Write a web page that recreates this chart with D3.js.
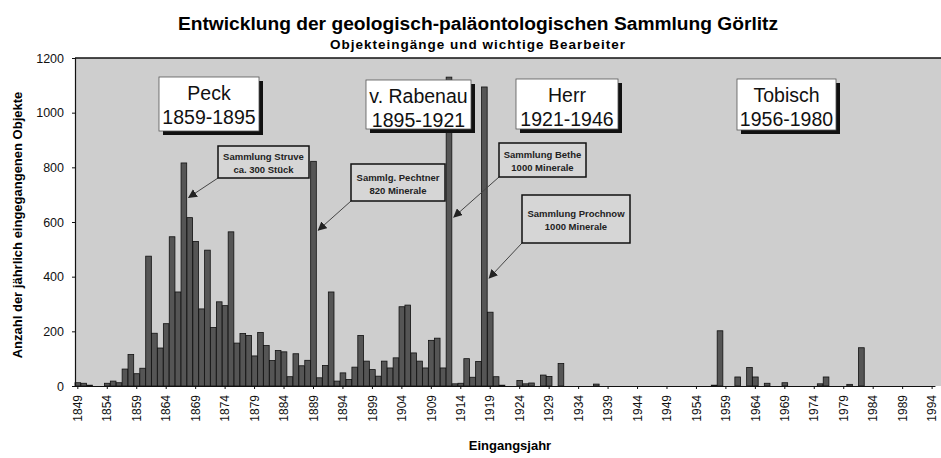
<!DOCTYPE html>
<html>
<head>
<meta charset="utf-8">
<script src="https://cdn.jsdelivr.net/npm/d3@7"></script>
<style>
	body { margin: 0; background: #fff; }
	svg { display: block; font-family: "Liberation Sans", Arial, sans-serif; }
	.tick text { fill: #111; }
</style>
</head>
<body>
<div id="chart"></div>
<script>
// Objekteingaenge pro Jahr, ab 1849 (ein Wert pro Jahr)
var ERSTES_JAHR = 1849
var LETZTES_JAHR = 1994
var eingaenge = [
	12, 10, 3, 0, 0, 10, 18, 12, 62, 115,        // 1849-1858
	45, 65, 475, 193, 139, 228, 546, 344, 816, 616,   // 1859-1868
	529, 282, 497, 214, 308, 294, 564, 157, 192, 185, // 1869-1878
	110, 196, 148, 93, 130, 125, 34, 118, 74, 94,     // 1879-1888
	822, 30, 75, 344, 18, 48, 24, 69, 185, 91,        // 1889-1898
	60, 36, 91, 66, 103, 290, 296, 121, 91, 66,       // 1899-1908
	167, 175, 66, 1130, 8, 10, 100, 32, 90, 1094,     // 1909-1918
	270, 34, 3, 0, 0, 20, 8, 11, 0, 40,               // 1919-1928
	35, 0, 82, 0, 0, 0, 0, 0, 7, 0,                   // 1929-1938
	0, 0, 0, 0, 0, 0, 0, 0, 0, 0,                     // 1939-1948
	0, 0, 0, 0, 0, 0, 0, 0, 3, 202,                   // 1949-1958
	0, 0, 33, 0, 68, 33, 0, 10, 0, 0,                 // 1959-1968
	12, 0, 0, 0, 0, 0, 8, 33, 0, 0,                   // 1969-1978
	0, 6, 0, 140, 0, 0, 0, 0, 0, 0,                   // 1979-1988
	0, 0, 0, 0, 0, 0                                  // 1989-1994
]
var yTicks = [0, 200, 400, 600, 800, 1000, 1200]

// Bearbeiter
var bearbeiter = ["Peck", "v. Rabenau", "Herr", "Tobisch"]
var zeitraeume = ["1859-1895", "1895-1921", "1921-1946", "1956-1980"]

// Sammlungen mit Pfeil auf das Eingangsjahr
var sammlungen = ["Sammlung Struve", "Sammlg. Pechtner", "Sammlung Bethe", "Sammlung Prochnow"]
var sammlungUmfang = ["ca. 300 Stück", "820 Minerale", "1000 Minerale", "1000 Minerale"]
var sammlungJahr = [1867, 1889, 1912, 1918]
var sammlungPfeilWert = [690, 570, 618, 395]

var WIDTH = 941, HEIGHT = 458
var LEFT = 75, TOP = 58, BOTTOM = 386, STEP = 5.89

var jahre = d3.range(ERSTES_JAHR, LETZTES_JAHR + 1)
var data = jahre.map(function(j, i){ return {jahr: j, wert: eingaenge[i]} })

var svg = d3.select("#chart").append("svg")
	.attr("width", WIDTH)
	.attr("height", HEIGHT)

var x = d3.scaleBand()
	.domain(jahre)
	.range([LEFT, LEFT + jahre.length * STEP])
	.paddingInner(0.04)
	.paddingOuter(0)

var y = d3.scaleLinear()
	.domain([0, 1200])
	.range([BOTTOM, TOP])

// plot background
svg.append("rect")
	.attr("x", LEFT)
	.attr("y", TOP)
	.attr("width", WIDTH - LEFT)
	.attr("height", BOTTOM - TOP)
	.attr("fill", "#cecece")

// bars
svg.selectAll(".bar")
	.data(data.filter(function(d){ return d.wert > 0 }))
	.enter()
	.append("rect")
	.attr("class", "bar")
	.attr("x", function(d){ return x(d.jahr) })
	.attr("width", x.bandwidth())
	.attr("y", function(d){ return y(d.wert) })
	.attr("height", function(d){ return y(0) - y(d.wert) })
	.attr("fill", "#555")
	.attr("stroke", "#111")
	.attr("stroke-width", 0.8)

// frame
svg.append("line")
	.attr("x1", LEFT).attr("x2", WIDTH)
	.attr("y1", TOP).attr("y2", TOP)
	.attr("stroke", "#111").attr("stroke-width", 1.5)

// y axis
var yAxis = svg.append("g")
	.attr("transform", "translate(" + LEFT + ",0)")
	.call(d3.axisLeft(y).tickValues(yTicks).tickFormat(d3.format("d")).tickSize(3).tickPadding(8))
yAxis.select(".domain").attr("stroke", "#111").attr("stroke-width", 1.2)
yAxis.selectAll(".tick line").attr("stroke", "#111")
yAxis.selectAll(".tick text")
	.attr("font-size", 12.5)
	.attr("font-family", "Liberation Sans, Arial, sans-serif")

// x axis
var xLabels = jahre.filter(function(j){ return (j - ERSTES_JAHR) % 5 == 0 })
var xAxis = svg.append("g")
	.attr("transform", "translate(0," + BOTTOM + ")")
	.call(d3.axisBottom(x).tickValues(xLabels).tickSize(3).tickPadding(4).tickSizeOuter(0))
xAxis.select(".domain").attr("stroke", "#111").attr("stroke-width", 1.2)
xAxis.selectAll(".tick line").attr("stroke", "#111")
xAxis.selectAll(".tick text")
	.attr("font-size", 12)
	.attr("font-family", "Liberation Sans, Arial, sans-serif")
	.attr("text-anchor", "end")
	.attr("dy", "0.35em")
	.attr("transform", "translate(0,9) rotate(-90)")
	.attr("x", 0)
	.attr("y", 0)

// titles
svg.append("text")
	.attr("x", 478).attr("y", 30)
	.attr("text-anchor", "middle")
	.attr("font-size", 19.2)
	.attr("font-weight", "bold")
	.text("Entwicklung der geologisch-paläontologischen Sammlung Görlitz")

svg.append("text")
	.attr("x", 478).attr("y", 49)
	.attr("text-anchor", "middle")
	.attr("font-size", 13.5)
	.attr("font-weight", "bold")
	.attr("letter-spacing", 1)
	.text("Objekteingänge und wichtige Bearbeiter")

svg.append("text")
	.attr("transform", "translate(22,225) rotate(-90)")
	.attr("text-anchor", "middle")
	.attr("font-size", 13)
	.attr("font-weight", "bold")
	.text("Anzahl der jährlich eingegangenen Objekte")

svg.append("text")
	.attr("x", 510).attr("y", 450)
	.attr("text-anchor", "middle")
	.attr("font-size", 13)
	.attr("font-weight", "bold")
	.text("Eingangsjahr")

// Bearbeiter boxes (layout in px)
var boxLayout = [
	{x: 159, y: 77, w: 100, h: 54},
	{x: 366, y: 80, w: 105, h: 49},
	{x: 516, y: 79, w: 102, h: 50},
	{x: 737, y: 79, w: 99, h: 51}
]

var box = svg.selectAll(".personBox")
	.data(bearbeiter)
	.enter()
	.append("g")
	.attr("class", "personBox")
	.attr("transform", function(d, i){ return "translate(" + boxLayout[i].x + "," + boxLayout[i].y + ")" })

box.append("rect")
	.attr("x", 4).attr("y", 4)
	.attr("width", function(d, i){ return boxLayout[i].w })
	.attr("height", function(d, i){ return boxLayout[i].h })
	.attr("fill", "#111")

box.append("rect")
	.attr("width", function(d, i){ return boxLayout[i].w })
	.attr("height", function(d, i){ return boxLayout[i].h })
	.attr("fill", "#fff")
	.attr("stroke", "#555")
	.attr("stroke-width", 0.8)

box.append("text")
	.attr("x", function(d, i){ return boxLayout[i].w / 2 })
	.attr("y", 23)
	.attr("text-anchor", "middle")
	.attr("font-size", 19.5)
	.attr("fill", "#111")
	.text(function(d){ return d })

box.append("text")
	.attr("x", function(d, i){ return boxLayout[i].w / 2 })
	.attr("y", 47)
	.attr("text-anchor", "middle")
	.attr("font-size", 19.5)
	.attr("fill", "#111")
	.text(function(d, i){ return zeitraeume[i] })

// Sammlung boxes and arrows
var noteLayout = [
	{x: 218, y: 146, w: 91, h: 32},
	{x: 351, y: 164, w: 94, h: 37},
	{x: 499, y: 143, w: 87, h: 34},
	{x: 522, y: 195, w: 108, h: 48}
]

svg.append("defs").append("marker")
	.attr("id", "arrow")
	.attr("viewBox", "0 0 10 10")
	.attr("refX", 9).attr("refY", 5)
	.attr("markerWidth", 9).attr("markerHeight", 9)
	.attr("markerUnits", "userSpaceOnUse")
	.attr("orient", "auto")
	.append("path")
	.attr("d", "M0,0 L10,5 L0,10 Z")
	.attr("fill", "#222")

svg.selectAll(".noteArrow")
	.data(sammlungen)
	.enter()
	.append("line")
	.attr("class", "noteArrow")
	.attr("x1", function(d, i){ return noteLayout[i].x })
	.attr("y1", function(d, i){ return noteLayout[i].y + noteLayout[i].h })
	.attr("x2", function(d, i){ return x(sammlungJahr[i]) + x.bandwidth() + 2 })
	.attr("y2", function(d, i){ return y(sammlungPfeilWert[i]) })
	.attr("stroke", "#444")
	.attr("stroke-width", 1)
	.attr("marker-end", "url(#arrow)")

var note = svg.selectAll(".noteBox")
	.data(sammlungen)
	.enter()
	.append("g")
	.attr("class", "noteBox")
	.attr("transform", function(d, i){ return "translate(" + noteLayout[i].x + "," + noteLayout[i].y + ")" })

note.append("rect")
	.attr("width", function(d, i){ return noteLayout[i].w })
	.attr("height", function(d, i){ return noteLayout[i].h })
	.attr("fill", "#d6d6d6")
	.attr("stroke", "#111")
	.attr("stroke-width", 1.5)

note.append("text")
	.attr("x", function(d, i){ return noteLayout[i].w / 2 })
	.attr("y", function(d, i){ return noteLayout[i].h / 2 - 2 })
	.attr("text-anchor", "middle")
	.attr("font-size", 9.5)
	.attr("font-weight", "bold")
	.attr("fill", "#222")
	.text(function(d){ return d })

note.append("text")
	.attr("x", function(d, i){ return noteLayout[i].w / 2 })
	.attr("y", function(d, i){ return noteLayout[i].h / 2 + 11 })
	.attr("text-anchor", "middle")
	.attr("font-size", 9.5)
	.attr("font-weight", "bold")
	.attr("fill", "#222")
	.text(function(d, i){ return sammlungUmfang[i] })
</script>
</body>
</html>
